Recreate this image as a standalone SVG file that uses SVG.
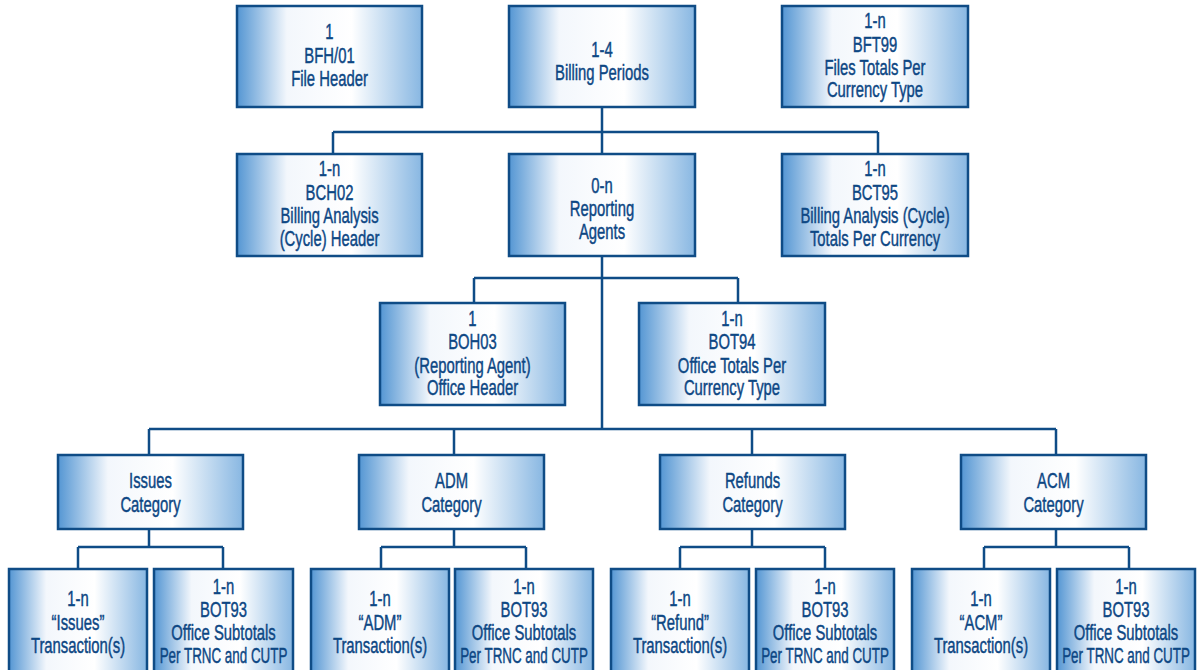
<svg xmlns="http://www.w3.org/2000/svg" width="1200" height="670" viewBox="0 0 1200 670">
<defs>
<linearGradient id="g" x1="0" y1="0" x2="1" y2="0">
<stop offset="0" stop-color="#5496d3"/>
<stop offset="0.27" stop-color="#f3f7fc"/>
<stop offset="0.62" stop-color="#ffffff"/>
<stop offset="1" stop-color="#88b7e2"/>
</linearGradient>
<style>
.b{fill:url(#g);stroke:#0f4c86;stroke-width:2.5}
.t{font-family:"Liberation Sans",Arial,sans-serif;font-size:21.5px;fill:#0d4784;stroke:#0d4784;stroke-width:0.45;text-anchor:middle}
.c{fill:none;stroke:#0f4c86;stroke-width:2.5}
</style>
</defs>
<rect width="1200" height="670" fill="#ffffff"/>
<g id="connectors">
<path class="c" d="M602,107V132M333,132H878M333,132V154M602,132V154M878,132V154"/>
<path class="c" d="M602,256V429M474,278H738M474,278V303M738,278V303"/>
<path class="c" d="M149,429H1056M149,429V455M454,429V455M752,429V455M1056,429V455"/>
<path class="c" d="M149,529V547M78,547H223M78,547V569M223,547V569"/>
<path class="c" d="M454,529V547M381,547H526M381,547V569M526,547V569"/>
<path class="c" d="M752,529V547M680,547H825M680,547V569M825,547V569"/>
<path class="c" d="M1056,529V547M984,547H1129M984,547V569M1129,547V569"/>
</g>
<g id="bfh01"><rect class="b" x="237" y="6" width="185" height="101"/>
<g transform="translate(329.5 0) scale(0.69 1)"><text class="t" x="0" y="39">1</text><text class="t" x="0" y="63">BFH/01</text><text class="t" x="0" y="86">File Header</text></g></g>
<g id="billing-periods"><rect class="b" x="509" y="6" width="186" height="101"/>
<g transform="translate(602 0) scale(0.69 1)"><text class="t" x="0" y="57">1-4</text><text class="t" x="0" y="80">Billing Periods</text></g></g>
<g id="bft99"><rect class="b" x="782" y="6" width="186" height="101"/>
<g transform="translate(875 0) scale(0.69 1)"><text class="t" x="0" y="28">1-n</text><text class="t" x="0" y="52">BFT99</text><text class="t" x="0" y="75">Files Totals Per</text><text class="t" x="0" y="97">Currency Type</text></g></g>
<g id="bch02"><rect class="b" x="237" y="154" width="185" height="102"/>
<g transform="translate(329.5 0) scale(0.69 1)"><text class="t" x="0" y="176">1-n</text><text class="t" x="0" y="200">BCH02</text><text class="t" x="0" y="223">Billing Analysis</text><text class="t" x="0" y="246">(Cycle) Header</text></g></g>
<g id="reporting-agents"><rect class="b" x="509" y="154" width="186" height="102"/>
<g transform="translate(602 0) scale(0.69 1)"><text class="t" x="0" y="193">0-n</text><text class="t" x="0" y="216">Reporting</text><text class="t" x="0" y="239">Agents</text></g></g>
<g id="bct95"><rect class="b" x="782" y="154" width="186" height="102"/>
<g transform="translate(875 0) scale(0.69 1)"><text class="t" x="0" y="176">1-n</text><text class="t" x="0" y="200">BCT95</text><text class="t" x="0" y="223">Billing Analysis (Cycle)</text><text class="t" x="0" y="246">Totals Per Currency</text></g></g>
<g id="boh03"><rect class="b" x="380" y="303" width="185" height="102"/>
<g transform="translate(472.5 0) scale(0.69 1)"><text class="t" x="0" y="326">1</text><text class="t" x="0" y="349">BOH03</text><text class="t" x="0" y="373">(Reporting Agent)</text><text class="t" x="0" y="395">Office Header</text></g></g>
<g id="bot94"><rect class="b" x="639" y="303" width="186" height="102"/>
<g transform="translate(732 0) scale(0.69 1)"><text class="t" x="0" y="326">1-n</text><text class="t" x="0" y="349">BOT94</text><text class="t" x="0" y="373">Office Totals Per</text><text class="t" x="0" y="395">Currency Type</text></g></g>
<g id="issues-category"><rect class="b" x="58" y="455" width="185" height="74"/>
<g transform="translate(150.5 0) scale(0.69 1)"><text class="t" x="0" y="488">Issues</text><text class="t" x="0" y="512">Category</text></g></g>
<g id="adm-category"><rect class="b" x="359" y="455" width="185" height="74"/>
<g transform="translate(451.5 0) scale(0.69 1)"><text class="t" x="0" y="488">ADM</text><text class="t" x="0" y="512">Category</text></g></g>
<g id="refunds-category"><rect class="b" x="660" y="455" width="185" height="74"/>
<g transform="translate(752.5 0) scale(0.69 1)"><text class="t" x="0" y="488">Refunds</text><text class="t" x="0" y="512">Category</text></g></g>
<g id="acm-category"><rect class="b" x="961" y="455" width="185" height="74"/>
<g transform="translate(1053.5 0) scale(0.69 1)"><text class="t" x="0" y="488">ACM</text><text class="t" x="0" y="512">Category</text></g></g>
<g id="issues-transactions"><rect class="b" x="9" y="569" width="138" height="110"/>
<g transform="translate(78 0) scale(0.69 1)"><text class="t" x="0" y="606">1-n</text><text class="t" x="0" y="630">“Issues”</text><text class="t" x="0" y="653">Transaction(s)</text></g></g>
<g id="issues-bot93"><rect class="b" x="154" y="569" width="139" height="110"/>
<g transform="translate(223.5 0) scale(0.69 1)"><text class="t" x="0" y="594">1-n</text><text class="t" x="0" y="617">BOT93</text><text class="t" x="0" y="640">Office Subtotals</text><text class="t" x="0" y="663" textLength="185" lengthAdjust="spacingAndGlyphs">Per TRNC and CUTP</text></g></g>
<g id="adm-transactions"><rect class="b" x="311" y="569" width="138" height="110"/>
<g transform="translate(380 0) scale(0.69 1)"><text class="t" x="0" y="606">1-n</text><text class="t" x="0" y="630">“ADM”</text><text class="t" x="0" y="653">Transaction(s)</text></g></g>
<g id="adm-bot93"><rect class="b" x="455" y="569" width="138" height="110"/>
<g transform="translate(524 0) scale(0.69 1)"><text class="t" x="0" y="594">1-n</text><text class="t" x="0" y="617">BOT93</text><text class="t" x="0" y="640">Office Subtotals</text><text class="t" x="0" y="663" textLength="185" lengthAdjust="spacingAndGlyphs">Per TRNC and CUTP</text></g></g>
<g id="refund-transactions"><rect class="b" x="611" y="569" width="138" height="110"/>
<g transform="translate(680 0) scale(0.69 1)"><text class="t" x="0" y="606">1-n</text><text class="t" x="0" y="630">“Refund”</text><text class="t" x="0" y="653">Transaction(s)</text></g></g>
<g id="refund-bot93"><rect class="b" x="756" y="569" width="138" height="110"/>
<g transform="translate(825 0) scale(0.69 1)"><text class="t" x="0" y="594">1-n</text><text class="t" x="0" y="617">BOT93</text><text class="t" x="0" y="640">Office Subtotals</text><text class="t" x="0" y="663" textLength="185" lengthAdjust="spacingAndGlyphs">Per TRNC and CUTP</text></g></g>
<g id="acm-transactions"><rect class="b" x="912" y="569" width="138" height="110"/>
<g transform="translate(981 0) scale(0.69 1)"><text class="t" x="0" y="606">1-n</text><text class="t" x="0" y="630">“ACM”</text><text class="t" x="0" y="653">Transaction(s)</text></g></g>
<g id="acm-bot93"><rect class="b" x="1057" y="569" width="138" height="110"/>
<g transform="translate(1126 0) scale(0.69 1)"><text class="t" x="0" y="594">1-n</text><text class="t" x="0" y="617">BOT93</text><text class="t" x="0" y="640">Office Subtotals</text><text class="t" x="0" y="663" textLength="185" lengthAdjust="spacingAndGlyphs">Per TRNC and CUTP</text></g></g>
</svg>
